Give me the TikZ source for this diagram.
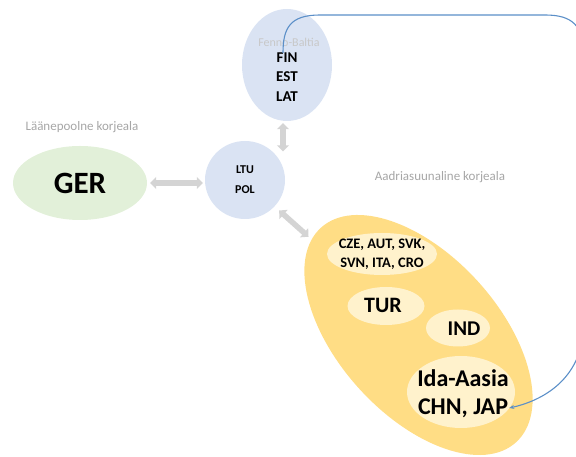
\documentclass[tikz,border=0pt]{standalone}
\usepackage{fontspec}
\setmainfont{Carlito}
\usetikzlibrary{shapes.geometric,arrows.meta,calc}
\definecolor{lblue}{HTML}{DAE3F3}
\definecolor{lgreen}{HTML}{E2F0D9}
\definecolor{gold}{HTML}{FFDD85}
\definecolor{cream}{HTML}{FFF2CC}
\definecolor{arrowgray}{HTML}{D4D4D4}
\definecolor{labelgray}{HTML}{A6A6A6}
\definecolor{faintgray}{HTML}{C8C8C8}
\definecolor{connblue}{HTML}{5B8FC8}
\begin{document}
\begin{tikzpicture}[x=1pt,y=1pt,
  bubble/.style={ellipse, inner sep=0pt, draw=none},
  grayarrow/.style={draw=arrowgray, line width=5.5pt,
    {Triangle[width=12pt,length=6pt]}-{Triangle[width=12pt,length=6pt]}},
  region/.style={text=labelgray, font=\fontsize{13}{15}\selectfont},
  country/.style={font=\bfseries, text=black, inner sep=1pt},
  connector/.style={draw=connblue, line width=1.1pt, -{Stealth[length=5pt,width=4pt]}}
]
\useasboundingbox (0,0) rectangle (576,457);
\clip (0,0) rectangle (576,457);

% Fenno-Baltia
\node[bubble, fill=lblue, minimum width=90pt, minimum height=112pt] (fenno) at (287,392) {};
\node[text=faintgray, font=\fontsize{12}{14}\selectfont] (fennolab) at (289,415) {Fenno-Baltia};
\node[country, font=\bfseries\fontsize{15}{18}\selectfont] (fin) at (287,399) {FIN};
\node[country, font=\bfseries\fontsize{15}{18}\selectfont] (est) at (287,380) {EST};
\node[country, font=\bfseries\fontsize{15}{18}\selectfont] (lat) at (287,360) {LAT};

% West
\node[region] (westlab) at (82,330) {Läänepoolne korjeala};
\node[bubble, fill=lgreen, minimum width=134pt, minimum height=74pt,
      font=\bfseries\fontsize{31}{36}\selectfont] (ger) at (80,274) {GER};

% LTU POL
\node[bubble, fill=lblue, minimum width=80pt, minimum height=78pt,
      align=center, font=\bfseries\fontsize{12}{20}\selectfont] (ltu) at (245,277) {LTU\\POL};

% Adriatic
\node[region] (southlab) at (440,280) {Aadriasuunaline korjeala};
\node[bubble, fill=gold, minimum width=290pt, minimum height=160pt, rotate=-47.7] (big) at (418.5,122) {};
\node[bubble, fill=cream, minimum width=110pt, minimum height=42pt] (cze) at (382,203) {};
\node[country, align=center, font=\bfseries\fontsize{14.5}{19}\selectfont] (czetext) at (382,203) {CZE, AUT, SVK,\\SVN, ITA, CRO};
\node[bubble, fill=cream, minimum width=77pt, minimum height=38pt] (tur) at (386,151) {};
\node[country, font=\bfseries\fontsize{22}{26}\selectfont] (turtext) at (383,152) {TUR};
\node[bubble, fill=cream, minimum width=64pt, minimum height=37pt] (ind) at (458,129) {};
\node[country, font=\bfseries\fontsize{21}{25}\selectfont] (indtext) at (464,128) {IND};
\node[bubble, fill=cream, minimum width=108pt, minimum height=72pt] (ida) at (461,65) {};
\node[country, font=\bfseries\fontsize{24}{28}\selectfont] (idatext) at (463,79) {Ida-Aasia};
\node[country, font=\bfseries\fontsize{24}{28}\selectfont] (jap) at (463,49) {CHN, JAP};

% gray arrows
\draw[grayarrow, shorten <=3pt, shorten >=2pt] (ger.east) -- (ger.east -| ltu.west);
\draw[grayarrow, shorten <=2pt, shorten >=1pt] ([xshift=-4pt]fenno.south) -- ([xshift=-4pt]fenno.south |- ltu.north east);
\draw[grayarrow, shorten <=6pt, shorten >=4pt] (ltu) -- (big);

% blue connector
\draw[connector] ([xshift=-4pt,yshift=-1pt]fin.north)
  .. controls +(0,25) and (290,442) .. (320,442)
  -- (545,442)
  .. controls (572,442) and (584,432) .. (584,400)
  -- (584,135)
  .. controls (584,80) and (545,57) .. (jap.east);
\end{tikzpicture}
\end{document}
